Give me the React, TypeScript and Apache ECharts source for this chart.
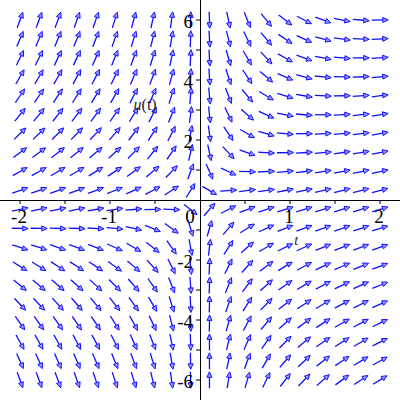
import React, { useEffect, useRef } from "react";
import * as echarts from "echarts";

// Grid of the direction field: t (horizontal) and u (vertical) sample points
const T_VALUES = [
  -2, -1.789, -1.579, -1.368, -1.158, -0.947, -0.737, -0.526, -0.316, -0.105,
  0.105, 0.316, 0.526, 0.737, 0.947, 1.158, 1.368, 1.579, 1.789, 2,
];
const U_VALUES = [
  6, 5.368, 4.737, 4.105, 3.474, 2.842, 2.211, 1.579, 0.947, 0.316,
  -0.316, -0.947, -1.579, -2.211, -2.842, -3.474, -4.105, -4.737, -5.368, -6,
];

// Arrow direction (degrees, counter-clockwise from +t on the plot), one row per u value
const ANGLES_DEG = [
  [70, 70, 70, 71, 71, 73, 75, 78, 82, 88, -88, -78, -68, -51, -38, -27, -20, -11, -5, 1],
  [67, 67, 68, 68, 69, 71, 73, 76, 80, 88, -87, -76, -64, -50, -34, -24, -15, -8, -2, 3],
  [64, 64, 65, 65, 66, 68, 70, 73, 78, 87, -87, -74, -60, -47, -29, -20, -11, -5, 0, 4],
  [60, 60, 61, 62, 63, 64, 67, 70, 75, 86, -86, -72, -56, -40, -23, -15, -6, -2, 2, 5],
  [56, 56, 57, 58, 59, 60, 63, 67, 72, 85, -85, -69, -50, -31, -17, -10, -3, 1, 4, 7],
  [51, 51, 52, 53, 54, 55, 58, 63, 68, 83, -84, -64, -41, -24, -11, -5, 0, 3, 6, 9],
  [44, 44, 45, 46, 47, 49, 53, 57, 63, 80, -82, -56, -30, -16, -5, 0, 3, 5, 7, 10],
  [37, 37, 38, 39, 40, 42, 46, 51, 56, 77, -78, -47, -20, -4, 1, 3, 5, 8, 9, 11],
  [29, 29, 30, 30, 31, 33, 36, 40, 46, 70, -66, -25, -2, 3, 5, 7, 9, 11, 12, 12],
  [19, 19, 20, 20, 21, 22, 24, 28, 33, 58, -30, 4, 7, 8, 11, 12, 13, 14, 14, 14],
  [12, 12, 11, 11, 10, 8, 5, 1, -2, -38, 49, 27, 20, 18, 17, 17, 17, 17, 17, 17],
  [-1, -1, -2, -2, -3, -6, -12, -22, -36, -73, 74, 49, 32, 24, 21, 20, 20, 19, 18, 17],
  [-18, -18, -19, -20, -21, -24, -30, -38, -55, -80, 83, 57, 41, 30, 26, 24, 22, 21, 20, 19],
  [-32, -32, -33, -33, -34, -36, -41, -48, -64, -84, 87, 64, 48, 37, 31, 28, 25, 23, 22, 20],
  [-40, -40, -41, -42, -43, -45, -49, -55, -69, -86, 88, 68, 53, 42, 35, 31, 28, 26, 24, 22],
  [-47, -47, -48, -49, -50, -52, -55, -60, -73, -87, 89, 71, 58, 46, 38, 34, 31, 28, 26, 24],
  [-55, -55, -55, -56, -56, -58, -61, -65, -76, -88, 89, 74, 62, 50, 42, 37, 33, 30, 28, 26],
  [-61, -61, -61, -62, -62, -63, -66, -69, -78, -88, 90, 76, 66, 55, 45, 40, 35, 32, 30, 27],
  [-66, -66, -66, -67, -67, -68, -70, -73, -80, -89, 90, 78, 70, 60, 49, 43, 38, 34, 31, 29],
  [-70, -70, -70, -71, -71, -72, -73, -76, -82, -89, 90, 81, 74, 64, 52, 46, 41, 36, 33, 31],
];

// Axis ticks and labels
const T_TICKS = [-2, -1.5, -1, -0.5, 0.5, 1, 1.5, 2];
const T_LABELS = ["-2", "-1", "0", "1", "2"];
const T_LABEL_VALUES = [-2, -1, 0, 1, 2];
const U_TICKS = [-6, -5, -4, -3, -2, -1, 1, 2, 3, 4, 5, 6];
const U_LABELS = ["6", "4", "2", "-2", "-4", "-6"];
const U_LABEL_VALUES = [6, 4, 2, -2, -4, -6];

// Axis annotations: [t, u, text]
const AXIS_TITLES: [number, number, string][] = [
  [-0.61, 3.17, "{i|u}(t)"],
  [1.07, -1.35, "{i|t}"],
];

const SERIF = "'Liberation Serif', 'DejaVu Serif', serif";
const BLUE = "#1010ff";

export default function App() {
  const ref = useRef<HTMLDivElement>(null);

  useEffect(() => {
    if (!ref.current) return;
    const chart = echarts.init(ref.current, undefined, { renderer: "svg" });

    const arrowData: number[][] = [];
    U_VALUES.forEach((u, j) => {
      T_VALUES.forEach((t, i) => {
        arrowData.push([t, u, ANGLES_DEG[j][i]]);
      });
    });

    const L = 16.5;
    const headLen = 5.5;
    const headHalf = 2.5;

    chart.setOption({
      animation: false,
      backgroundColor: "#ffffff",
      grid: {
        left: -25,
        right: -25,
        top: -10,
        bottom: -10,
        containLabel: false,
        outerBoundsMode: "none",
      },
      xAxis: {
        type: "value",
        min: -2.5,
        max: 2.5,
        interval: 0.5,
        axisLine: { onZero: true, lineStyle: { color: "#000", width: 1 } },
        axisTick: { show: false },
        splitLine: { show: false },
        axisLabel: { show: false },
      },
      yAxis: {
        type: "value",
        min: -7,
        max: 7,
        interval: 1,
        axisLine: { onZero: true, lineStyle: { color: "#000", width: 1 } },
        axisTick: { show: false },
        splitLine: { show: false },
        axisLabel: { show: false },
      },
      series: [
        {
          type: "custom",
          coordinateSystem: "cartesian2d",
          data: arrowData,
          clip: false,
          z: 3,
          renderItem: (params: any, api: any) => {
            const t = api.value(0);
            const u = api.value(1);
            const a = (api.value(2) * Math.PI) / 180;
            const c = api.coord([t, u]);
            const dx = Math.cos(a);
            const dy = -Math.sin(a);
            const tail = [c[0] - (dx * L) / 2, c[1] - (dy * L) / 2];
            const tip = [c[0] + (dx * L) / 2, c[1] + (dy * L) / 2];
            const base = [tip[0] - dx * headLen, tip[1] - dy * headLen];
            const nx = -dy;
            const ny = dx;
            return {
              type: "group",
              children: [
                {
                  type: "line",
                  shape: { x1: tail[0], y1: tail[1], x2: base[0], y2: base[1] },
                  style: { stroke: BLUE, lineWidth: 1.3 },
                },
                {
                  type: "polygon",
                  shape: {
                    points: [
                      tip,
                      [base[0] + nx * headHalf, base[1] + ny * headHalf],
                      [base[0] - nx * headHalf, base[1] - ny * headHalf],
                    ],
                  },
                  style: { fill: "rgba(70,70,255,0.55)", stroke: BLUE, lineWidth: 1 },
                },
              ],
            };
          },
        },
        // t-axis ticks
        {
          type: "custom",
          coordinateSystem: "cartesian2d",
          data: T_TICKS.map((v) => [v, 0]),
          clip: false,
          z: 4,
          renderItem: (params: any, api: any) => {
            const c = api.coord([api.value(0), 0]);
            return {
              type: "line",
              shape: { x1: c[0], y1: c[1], x2: c[0], y2: c[1] + 4 },
              style: { stroke: "#000", lineWidth: 1 },
            };
          },
        },
        // u-axis ticks
        {
          type: "custom",
          coordinateSystem: "cartesian2d",
          data: U_TICKS.map((v) => [0, v]),
          clip: false,
          z: 4,
          renderItem: (params: any, api: any) => {
            const c = api.coord([0, api.value(1)]);
            return {
              type: "line",
              shape: { x1: c[0], y1: c[1], x2: c[0] - 4, y2: c[1] },
              style: { stroke: "#000", lineWidth: 1 },
            };
          },
        },
        // t-axis labels
        {
          type: "custom",
          coordinateSystem: "cartesian2d",
          data: T_LABEL_VALUES.map((v) => [v, 0]),
          clip: false,
          z: 5,
          renderItem: (params: any, api: any) => {
            const v = api.value(0);
            const c = api.coord([v, 0]);
            return {
              type: "text",
              x: c[0] + (v === 0 ? -10 : -1),
              y: c[1] + 16,
              style: {
                text: T_LABELS[params.dataIndex],
                fontFamily: SERIF,
                fontSize: 19,
                fill: "#000",
                align: "center",
                verticalAlign: "middle",
              },
            };
          },
        },
        // u-axis labels
        {
          type: "custom",
          coordinateSystem: "cartesian2d",
          data: U_LABEL_VALUES.map((v) => [0, v]),
          clip: false,
          z: 5,
          renderItem: (params: any, api: any) => {
            const c = api.coord([0, api.value(1)]);
            return {
              type: "text",
              x: c[0] - 7,
              y: c[1] + 1,
              style: {
                text: U_LABELS[params.dataIndex],
                fontFamily: SERIF,
                fontSize: 19,
                fill: "#000",
                align: "right",
                verticalAlign: "middle",
              },
            };
          },
        },
        // axis titles
        {
          type: "custom",
          coordinateSystem: "cartesian2d",
          data: AXIS_TITLES.map((d) => [d[0], d[1]]),
          clip: false,
          z: 5,
          renderItem: (params: any, api: any) => {
            const item = AXIS_TITLES[params.dataIndex];
            const c = api.coord([api.value(0), api.value(1)]);
            const fs = params.dataIndex === 0 ? 16 : 14;
            return {
              type: "text",
              x: c[0],
              y: c[1],
              style: {
                text: item[2],
                fontFamily: SERIF,
                fontSize: fs,
                fill: "#222",
                align: "center",
                verticalAlign: "middle",
                rich: {
                  i: { fontFamily: SERIF, fontStyle: "italic", fontSize: fs, fill: "#222" },
                },
              },
            };
          },
        },
      ],
    });

    return () => chart.dispose();
  }, []);

  return (
    <div
      ref={ref}
      style={{ position: "fixed", left: 0, top: 0, width: 400, height: 400 }}
    />
  );
}
